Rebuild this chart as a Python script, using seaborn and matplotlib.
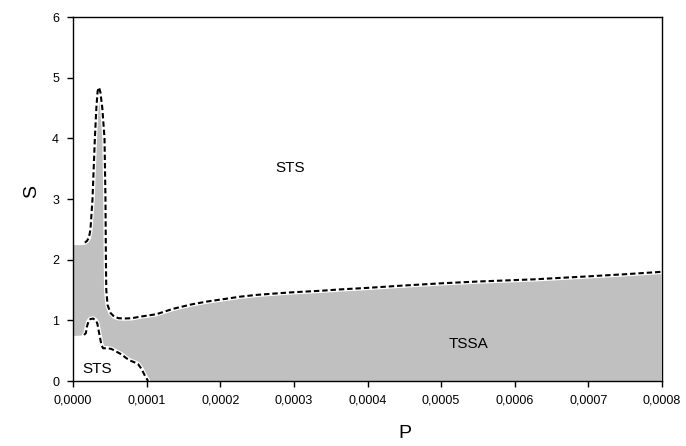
import numpy as np
import matplotlib
matplotlib.use("Agg")
import matplotlib.pyplot as plt
import seaborn as sns
from matplotlib.ticker import FuncFormatter, MultipleLocator

# Upper boundary of the TSSA region (dashed)
upper_p = [0.0000162, 0.0000190, 0.0000215, 0.0000230, 0.0000240, 0.0000265, 0.0000297,
           0.0000317, 0.0000335, 0.0000353, 0.0000372, 0.0000398, 0.0000428, 0.0000441,
           0.0000447, 0.0000452, 0.0000470, 0.0000510, 0.0000560, 0.0000620, 0.0000700,
           0.0000800, 0.0000910, 0.0001130, 0.0001360, 0.0001600, 0.0001820, 0.0002050,
           0.0002270, 0.0002500, 0.0002720, 0.0002950, 0.0003170, 0.0003400, 0.0003630,
           0.0004000, 0.0004440, 0.0005000, 0.0005500, 0.0006250, 0.0007000, 0.0007500,
           0.0008000]
upper_s = [2.28, 2.31, 2.36, 2.45, 2.55, 3.00, 4.00,
           4.50, 4.78, 4.84, 4.76, 4.50, 4.00, 3.00,
           2.00, 1.50, 1.25, 1.12, 1.06, 1.035, 1.03,
           1.035, 1.06, 1.10, 1.19, 1.26, 1.31, 1.35,
           1.39, 1.42, 1.44, 1.46, 1.475, 1.49, 1.51,
           1.535, 1.57, 1.61, 1.64, 1.675, 1.725, 1.76,
           1.80]

# Lower boundary of the TSSA region (dashed)
lower_p = [0.0000150, 0.0000175, 0.0000190, 0.0000210, 0.0000235, 0.0000272, 0.0000310,
           0.0000330, 0.0000355, 0.0000385, 0.0000408, 0.0000460, 0.0000520, 0.0000580,
           0.0000657, 0.0000720, 0.0000770, 0.0000830, 0.0000883, 0.0000930, 0.0000980,
           0.0001020]
lower_s = [0.76, 0.79, 0.90, 0.98, 1.02, 1.03, 1.00,
           0.95, 0.79, 0.60, 0.54, 0.54, 0.53, 0.49,
           0.44, 0.38, 0.34, 0.31, 0.28, 0.20, 0.08,
           0.00]

# Undashed left edges of the grey region
left_top_s = 2.24
left_bottom_s = 0.74

x_ticks = [0.0, 0.0001, 0.0002, 0.0003, 0.0004, 0.0005, 0.0006, 0.0007, 0.0008]
y_ticks = [0, 1, 2, 3, 4, 5, 6]

sns.set_style("ticks")
plt.rcParams["font.family"] = ["Liberation Sans", "DejaVu Sans"]
plt.rcParams["text.color"] = "black"
plt.rcParams["axes.labelcolor"] = "black"

fig = plt.figure(figsize=(6.86, 4.46), dpi=100)
ax = fig.add_axes([73 / 686, 65 / 446, 589 / 686, 364 / 446])

# grey region polygon
poly_x = ([0.0, upper_p[0] - 0.0000005] + upper_p[:-1] + [0.000799, 0.000799]
          + lower_p[::-1] + [lower_p[0] - 0.000002, 0.0])
poly_y = ([left_top_s, left_top_s] + upper_s[:-1] + [upper_s[-1] - 0.03, 0.0]
          + lower_s[::-1] + [lower_s[0] - 0.01, left_bottom_s])
ax.fill(poly_x, poly_y, color="#c0c0c0", lw=0, zorder=1)

for px, py in [(upper_p, upper_s), (lower_p, lower_s)]:
    sns.lineplot(x=px, y=py, sort=False, estimator=None, color="white", lw=3.2,
                 ax=ax, zorder=2)
    sns.lineplot(x=px, y=py, sort=False, estimator=None, color="black", lw=1.5,
                 linestyle=(0, (2.6, 1.4)), ax=ax, zorder=3)

ax.text(0.0002947, 3.51, "STS", fontsize=11, ha="center", va="center", color="black")
ax.text(0.0000326, 0.19, "STS", fontsize=11, ha="center", va="center", color="black")
ax.text(0.000537, 0.61, "TSSA", fontsize=11, ha="center", va="center", color="black")

ax.set_xlim(0, 0.0008)
ax.set_ylim(0, 6)
ax.set_xticks(x_ticks)
ax.set_yticks(y_ticks)
ax.xaxis.set_major_formatter(FuncFormatter(lambda v, p: f"{v:.4f}".replace(".", ",")))
ax.yaxis.set_major_formatter(FuncFormatter(lambda v, p: f"{int(round(v))}"))
ax.tick_params(axis="both", direction="out", length=4, width=1, labelsize=9,
               pad=6, colors="black")

for s in ax.spines.values():
    s.set_visible(True)
    s.set_color("black")
    s.set_linewidth(1.0)

ax.set_xlabel("P", fontsize=14)
ax.set_ylabel("S", fontsize=14)
ax.xaxis.label.set_va("center")
ax.yaxis.label.set_va("center")
ax.xaxis.set_label_coords(0.564, -0.145)
ax.yaxis.set_label_coords(-0.07, 0.52)

fig.savefig("out.png", dpi=100)
